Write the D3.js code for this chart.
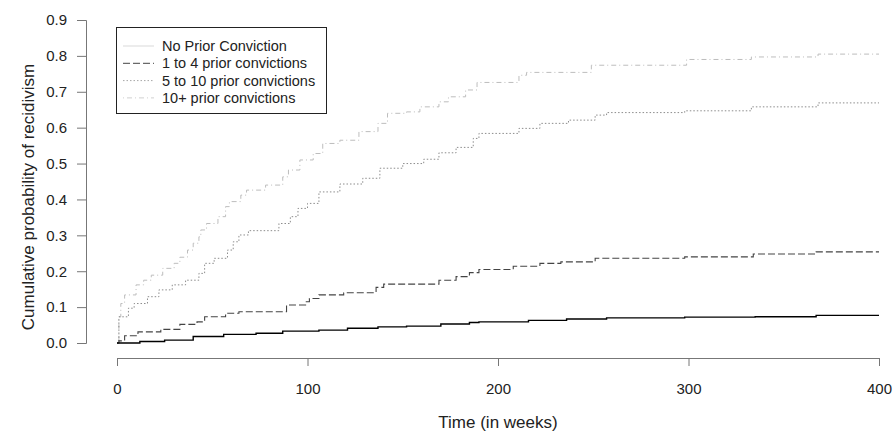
<!DOCTYPE html>
<html>
<head>
<meta charset="utf-8">
<script src="https://cdn.jsdelivr.net/npm/d3@7"></script>
<style>
  html, body { margin: 0; padding: 0; background: #fff; }
  svg { display: block; font-family: "Liberation Sans", Arial, sans-serif; }
</style>
</head>
<body>
<svg id="chart" width="893" height="433"></svg>
<script>
// ---- data ----
const seriesNames = ["No Prior Conviction", "1 to 4 prior convictions", "5 to 10 prior convictions", "10+ prior convictions"];

const noPriorWeeks = [0, 12, 25, 40, 56, 73, 87, 106, 121, 137, 152, 170, 185, 190, 216, 236, 257, 298, 335, 367, 400];
const noPriorProb  = [0, 0.004, 0.008, 0.018, 0.024, 0.027, 0.033, 0.036, 0.041, 0.045, 0.047, 0.053, 0.057, 0.059, 0.063, 0.067, 0.070, 0.072, 0.073, 0.077, 0.077];

const oneToFourWeeks = [0, 1, 4, 11, 23, 33, 42, 46, 57, 64, 89, 99, 101, 106, 119, 136, 140, 169, 178, 185, 190, 208, 222, 233, 251, 298, 334, 367, 400];
const oneToFourProb  = [0, 0.006, 0.020, 0.031, 0.038, 0.052, 0.059, 0.073, 0.083, 0.087, 0.106, 0.115, 0.124, 0.134, 0.140, 0.155, 0.164, 0.175, 0.185, 0.196, 0.205, 0.214, 0.222, 0.226, 0.236, 0.240, 0.248, 0.254, 0.254];

const fiveToTenWeeks = [0, 1, 6, 9, 16, 22, 29, 36, 43, 46, 51, 58, 61, 64, 69, 85, 91, 95, 100, 106, 117, 129, 138, 150, 161, 169, 178, 187, 190, 211, 222, 237, 251, 257, 298, 333, 368, 400];
const fiveToTenProb  = [0, 0.073, 0.097, 0.110, 0.129, 0.148, 0.162, 0.175, 0.194, 0.222, 0.236, 0.259, 0.282, 0.301, 0.313, 0.333, 0.352, 0.375, 0.389, 0.421, 0.443, 0.459, 0.487, 0.500, 0.512, 0.530, 0.545, 0.570, 0.584, 0.598, 0.612, 0.621, 0.635, 0.642, 0.647, 0.658, 0.669, 0.669];

const tenPlusWeeks = [0, 1, 2, 4, 10, 14, 18, 24, 30, 33, 37, 40, 43, 44, 47, 53, 57, 59, 65, 68, 78, 87, 90, 96, 103, 108, 117, 127, 137, 142, 152, 159, 169, 174, 183, 189, 211, 215, 249, 299, 333, 368, 400];
const tenPlusProb  = [0, 0.073, 0.110, 0.134, 0.162, 0.175, 0.189, 0.208, 0.222, 0.239, 0.259, 0.278, 0.296, 0.315, 0.333, 0.352, 0.380, 0.394, 0.412, 0.426, 0.440, 0.463, 0.482, 0.510, 0.528, 0.556, 0.565, 0.589, 0.612, 0.640, 0.644, 0.658, 0.672, 0.686, 0.705, 0.726, 0.746, 0.754, 0.774, 0.790, 0.797, 0.805, 0.805];

const xTicks = [0, 100, 200, 300, 400];
const yTicks = [0, 0.1, 0.2, 0.3, 0.4, 0.5, 0.6, 0.7, 0.8, 0.9];

// ---- styles ----
const lineColors   = ["#000000", "#444444", "#8c8c8c", "#bdbdbd"];
const legendColors = ["#d9d9d9", "#444444", "#a6a6a6", "#d0d0d0"];
const dashes       = [null, "7,3", "1.5,2", "1,3,5,3"];
const widths       = [1.4, 1.1, 1, 1];

const svg = d3.select("#chart");
const x = d3.scaleLinear().domain([0, 400]).range([117, 879]);
const y = d3.scaleLinear().domain([0, 0.9]).range([343, 20]);

const axisColor = "#777";

// x axis
const gx = svg.append("g").attr("transform", "translate(0,358)")
  .call(d3.axisBottom(x).tickValues(xTicks).tickSize(8).tickPadding(17).tickFormat(d3.format("d")));
gx.select(".domain").attr("stroke", axisColor);
gx.selectAll(".tick line").attr("stroke", axisColor);
gx.selectAll(".tick text").attr("font-size", 15).attr("fill", "#222")
  .attr("font-family", "Liberation Sans, Arial, sans-serif");

// y axis
const gy = svg.append("g").attr("transform", "translate(86,0)")
  .call(d3.axisLeft(y).tickValues(yTicks).tickSize(9).tickPadding(10).tickFormat(d3.format(".1f")));
gy.select(".domain").attr("stroke", axisColor);
gy.selectAll(".tick line").attr("stroke", axisColor);
gy.selectAll(".tick text").attr("font-size", 15).attr("fill", "#222")
  .attr("font-family", "Liberation Sans, Arial, sans-serif");

// axis titles
svg.append("text").attr("x", (x(0) + x(400)) / 2).attr("y", 428)
  .attr("text-anchor", "middle").attr("font-size", 17).attr("fill", "#222")
  .text("Time (in weeks)");
svg.append("text").attr("transform", "translate(34,197) rotate(-90)")
  .attr("text-anchor", "middle").attr("font-size", 17).attr("fill", "#222")
  .text("Cumulative probability of recidivism");

// curves
const series = [
  {weeks: noPriorWeeks, prob: noPriorProb},
  {weeks: oneToFourWeeks, prob: oneToFourProb},
  {weeks: fiveToTenWeeks, prob: fiveToTenProb},
  {weeks: tenPlusWeeks, prob: tenPlusProb}
];
const line = d3.line().x(d => x(d[0])).y(d => y(d[1])).curve(d3.curveStepAfter);

series.slice().reverse().forEach((s, ri) => {
  const i = series.length - 1 - ri;
  const pts = s.weeks.map((w, k) => [w, s.prob[k]]);
  svg.append("path").attr("d", line(pts))
    .attr("fill", "none")
    .attr("stroke", lineColors[i])
    .attr("stroke-width", widths[i])
    .attr("stroke-dasharray", dashes[i]);
});

// legend
const lg = svg.append("g");
lg.append("rect").attr("x", 116.5).attr("y", 27.5).attr("width", 210).attr("height", 86)
  .attr("fill", "#fff").attr("stroke", "#222").attr("stroke-width", 1);
seriesNames.forEach((name, i) => {
  const cy = 46 + i * 17.3;
  lg.append("line").attr("x1", 123).attr("x2", 154).attr("y1", cy).attr("y2", cy)
    .attr("stroke", legendColors[i]).attr("stroke-width", 1)
    .attr("stroke-dasharray", dashes[i]);
  lg.append("text").attr("x", 162).attr("y", cy).attr("dy", "0.35em")
    .attr("font-size", 14.5).attr("fill", "#222").text(name);
});
</script>
</body>
</html>
